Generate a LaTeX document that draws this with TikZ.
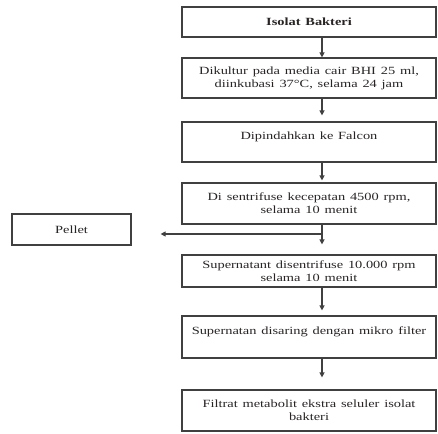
\documentclass[tikz,border=0pt]{standalone}
\usepackage{fontspec}
\setmainfont{Liberation Serif}
\usetikzlibrary{arrows.meta}
\definecolor{ln}{RGB}{64,64,64}
\definecolor{tx}{RGB}{40,36,36}
\newcommand{\sx}[1]{\scalebox{1.31}[1]{#1}}
\begin{document}
\begin{tikzpicture}[x=1pt,y=-1pt,
 box/.style={draw=ln,line width=1.2pt,minimum width=254pt,text width=250pt,align=center,inner sep=0pt,text=tx,font=\fontsize{11}{13}\selectfont},
 pbox/.style={draw=ln,line width=1.2pt,minimum width=119pt,minimum height=31pt,inner sep=0pt,text=tx,font=\fontsize{11}{13}\selectfont},
 arr/.style={ln,line width=1.2pt,-{Triangle[length=5pt,width=5pt]}}]
\useasboundingbox (0,0) rectangle (438,433);
\node[box,minimum height=30pt] (b1) at (309,22) {\sx{\textbf{Isolat Bakteri}}};
\node[box,minimum height=40pt] (b2) at (309,78) {\sx{Dikultur pada media cair BHI 25 ml,}\\ \sx{diinkubasi 37°C, selama 24 jam}};
\node[box,minimum height=40pt] (b3) at (309,142) {\sx{Dipindahkan ke Falcon}\\ \mbox{}};
\node[box,minimum height=41pt] (b4) at (309,203.5) {\sx{Di sentrifuse kecepatan 4500 rpm,}\\ \sx{selama 10 menit}};
\node[box,minimum height=32pt] (b5) at (309,271) {\sx{Supernatant disentrifuse 10.000 rpm}\\ \sx{selama 10 menit}};
\node[box,minimum height=42pt] (b6) at (309,337) {\sx{Supernatan disaring dengan mikro filter}\\ \mbox{}};
\node[box,minimum height=41pt] (b7) at (309,410.5) {\sx{Filtrat metabolit ekstra seluler isolat}\\ \sx{bakteri}};
\node[pbox] (pel) at (71.5,229.5) {\sx{Pellet}};
\coordinate (ax) at (322,0);
\coordinate (j) at (322,234);
\draw[arr] (b1.south -| ax) -- (b2.north -| ax);
\draw[arr,shorten >=6pt] (b2.south -| ax) -- (b3.north -| ax);
\draw[arr,shorten >=2pt] (b3.south -| ax) -- (b4.north -| ax);
\draw[arr,shorten >=10pt] (b4.south -| ax) -- (b5.north -| ax);
\draw[arr,shorten >=29pt] (j) -- (pel.east |- j);
\draw[arr,shorten >=5pt] (b5.south -| ax) -- (b6.north -| ax);
\draw[arr,shorten >=12pt] (b6.south -| ax) -- (b7.north -| ax);
\end{tikzpicture}
\end{document}
